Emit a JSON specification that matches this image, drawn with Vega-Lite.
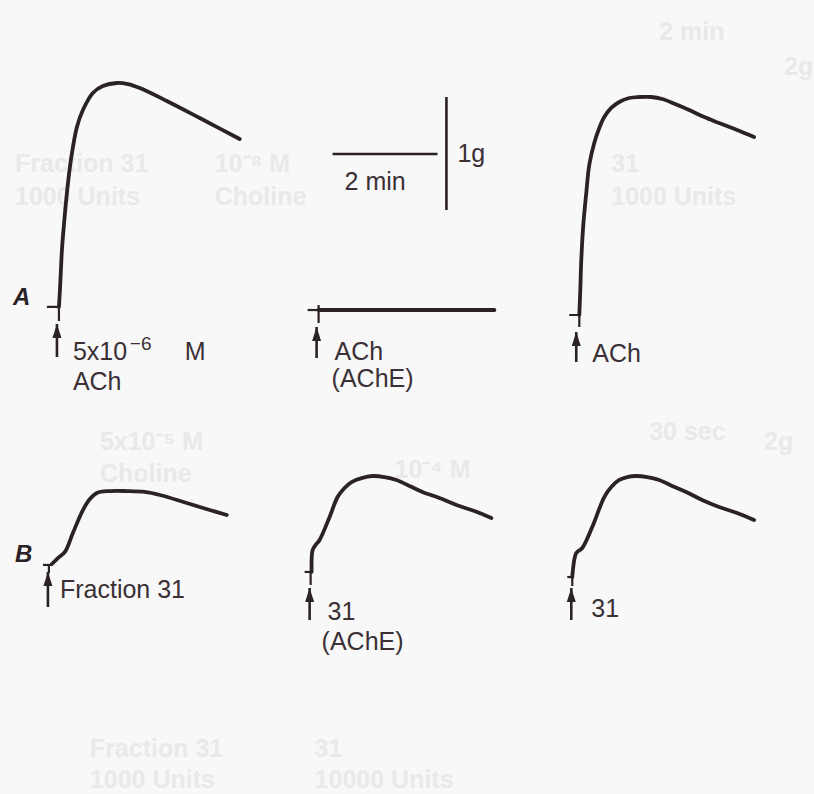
{
  "$schema": "https://vega.github.io/schema/vega-lite/v6.json",
  "width": 814,
  "height": 794,
  "autosize": {"type": "fit", "contains": "padding"},
  "padding": 0,
  "background": "#f8f8f8",
  "config": {"view": {"stroke": null}},
  "datasets": {
    "traces": [
      {"trace": "A1", "t": 1.124, "g": 4.310},
      {"trace": "A1", "t": 1.143, "g": 4.460},
      {"trace": "A1", "t": 1.162, "g": 4.637},
      {"trace": "A1", "t": 1.181, "g": 4.814},
      {"trace": "A1", "t": 1.219, "g": 5.035},
      {"trace": "A1", "t": 1.276, "g": 5.319},
      {"trace": "A1", "t": 1.352, "g": 5.611},
      {"trace": "A1", "t": 1.467, "g": 5.903},
      {"trace": "A1", "t": 1.581, "g": 6.053},
      {"trace": "A1", "t": 1.771, "g": 6.204},
      {"trace": "A1", "t": 1.962, "g": 6.265},
      {"trace": "A1", "t": 2.229, "g": 6.292},
      {"trace": "A1", "t": 2.438, "g": 6.283},
      {"trace": "A1", "t": 2.667, "g": 6.248},
      {"trace": "A1", "t": 3.181, "g": 6.133},
      {"trace": "A1", "t": 3.810, "g": 5.982},
      {"trace": "A1", "t": 4.571, "g": 5.796},
      {"trace": "A2", "t": 6.076, "g": 4.283},
      {"trace": "A2", "t": 9.429, "g": 4.283},
      {"trace": "A3", "t": 11.048, "g": 4.239},
      {"trace": "A3", "t": 11.067, "g": 4.460},
      {"trace": "A3", "t": 11.086, "g": 4.726},
      {"trace": "A3", "t": 11.124, "g": 5.035},
      {"trace": "A3", "t": 11.181, "g": 5.319},
      {"trace": "A3", "t": 11.238, "g": 5.566},
      {"trace": "A3", "t": 11.333, "g": 5.761},
      {"trace": "A3", "t": 11.429, "g": 5.894},
      {"trace": "A3", "t": 11.524, "g": 5.991},
      {"trace": "A3", "t": 11.657, "g": 6.071},
      {"trace": "A3", "t": 11.810, "g": 6.124},
      {"trace": "A3", "t": 12.000, "g": 6.159},
      {"trace": "A3", "t": 12.190, "g": 6.168},
      {"trace": "A3", "t": 12.419, "g": 6.168},
      {"trace": "A3", "t": 12.629, "g": 6.150},
      {"trace": "A3", "t": 12.876, "g": 6.106},
      {"trace": "A3", "t": 13.143, "g": 6.053},
      {"trace": "A3", "t": 13.429, "g": 5.991},
      {"trace": "A3", "t": 13.714, "g": 5.938},
      {"trace": "A3", "t": 14.057, "g": 5.876},
      {"trace": "A3", "t": 14.381, "g": 5.814},
      {"trace": "B1", "t": 0.990, "g": 2.035},
      {"trace": "B1", "t": 1.105, "g": 2.088},
      {"trace": "B1", "t": 1.238, "g": 2.142},
      {"trace": "B1", "t": 1.390, "g": 2.310},
      {"trace": "B1", "t": 1.581, "g": 2.513},
      {"trace": "B1", "t": 1.714, "g": 2.611},
      {"trace": "B1", "t": 1.848, "g": 2.664},
      {"trace": "B1", "t": 2.095, "g": 2.681},
      {"trace": "B1", "t": 2.419, "g": 2.681},
      {"trace": "B1", "t": 2.762, "g": 2.673},
      {"trace": "B1", "t": 3.048, "g": 2.646},
      {"trace": "B1", "t": 3.562, "g": 2.575},
      {"trace": "B1", "t": 4.000, "g": 2.513},
      {"trace": "B1", "t": 4.324, "g": 2.469},
      {"trace": "B2", "t": 5.943, "g": 1.965},
      {"trace": "B2", "t": 5.962, "g": 2.159},
      {"trace": "B2", "t": 6.019, "g": 2.204},
      {"trace": "B2", "t": 6.095, "g": 2.248},
      {"trace": "B2", "t": 6.286, "g": 2.451},
      {"trace": "B2", "t": 6.438, "g": 2.628},
      {"trace": "B2", "t": 6.571, "g": 2.708},
      {"trace": "B2", "t": 6.705, "g": 2.761},
      {"trace": "B2", "t": 6.895, "g": 2.796},
      {"trace": "B2", "t": 7.105, "g": 2.814},
      {"trace": "B2", "t": 7.333, "g": 2.805},
      {"trace": "B2", "t": 7.562, "g": 2.779},
      {"trace": "B2", "t": 7.810, "g": 2.726},
      {"trace": "B2", "t": 8.057, "g": 2.673},
      {"trace": "B2", "t": 8.381, "g": 2.619},
      {"trace": "B2", "t": 8.705, "g": 2.558},
      {"trace": "B2", "t": 9.048, "g": 2.504},
      {"trace": "B2", "t": 9.371, "g": 2.442},
      {"trace": "B3", "t": 10.914, "g": 1.920},
      {"trace": "B3", "t": 10.952, "g": 2.071},
      {"trace": "B3", "t": 10.990, "g": 2.133},
      {"trace": "B3", "t": 11.105, "g": 2.177},
      {"trace": "B3", "t": 11.295, "g": 2.363},
      {"trace": "B3", "t": 11.524, "g": 2.628},
      {"trace": "B3", "t": 11.657, "g": 2.717},
      {"trace": "B3", "t": 11.810, "g": 2.779},
      {"trace": "B3", "t": 11.962, "g": 2.805},
      {"trace": "B3", "t": 12.133, "g": 2.814},
      {"trace": "B3", "t": 12.343, "g": 2.805},
      {"trace": "B3", "t": 12.571, "g": 2.779},
      {"trace": "B3", "t": 12.819, "g": 2.726},
      {"trace": "B3", "t": 13.086, "g": 2.673},
      {"trace": "B3", "t": 13.390, "g": 2.602},
      {"trace": "B3", "t": 13.714, "g": 2.540},
      {"trace": "B3", "t": 14.057, "g": 2.487},
      {"trace": "B3", "t": 14.381, "g": 2.425}
    ],
    "ticks": [
      {"seg": "A1", "t": 0.895, "g": 4.310},
      {"seg": "A1", "t": 1.124, "g": 4.310},
      {"seg": "A1", "t": 1.124, "g": 4.186},
      {"seg": "A2h", "t": 5.867, "g": 4.283},
      {"seg": "A2h", "t": 6.076, "g": 4.283},
      {"seg": "A2v", "t": 6.076, "g": 4.327},
      {"seg": "A2v", "t": 6.076, "g": 4.168},
      {"seg": "A3", "t": 10.857, "g": 4.239},
      {"seg": "A3", "t": 11.048, "g": 4.239},
      {"seg": "A3", "t": 11.048, "g": 4.133},
      {"seg": "B1h", "t": 0.819, "g": 2.027},
      {"seg": "B1h", "t": 0.990, "g": 2.027},
      {"seg": "B1v", "t": 0.933, "g": 2.027},
      {"seg": "B1v", "t": 0.933, "g": 1.956},
      {"seg": "B2h", "t": 5.810, "g": 1.965},
      {"seg": "B2h", "t": 5.943, "g": 1.965},
      {"seg": "B2v", "t": 5.924, "g": 1.965},
      {"seg": "B2v", "t": 5.924, "g": 1.850},
      {"seg": "B3h", "t": 10.819, "g": 1.920},
      {"seg": "B3h", "t": 10.933, "g": 1.920},
      {"seg": "B3v", "t": 10.914, "g": 1.920},
      {"seg": "B3v", "t": 10.914, "g": 1.841}
    ],
    "scalebar": [
      {"bar": "time", "t": 6.343, "g": 5.664},
      {"bar": "time", "t": 8.343, "g": 5.664},
      {"bar": "force", "t": 8.514, "g": 5.168},
      {"bar": "force", "t": 8.514, "g": 6.168}
    ],
    "arrows": [
      {"dose": "A1", "t": 1.086, "tip": 4.159, "tail": 3.867},
      {"dose": "A2", "t": 6.038, "tip": 4.133, "tail": 3.858},
      {"dose": "A3", "t": 10.990, "tip": 4.088, "tail": 3.823},
      {"dose": "B1", "t": 0.914, "tip": 1.965, "tail": 1.655},
      {"dose": "B2", "t": 5.905, "tip": 1.823, "tail": 1.540},
      {"dose": "B3", "t": 10.895, "tip": 1.823, "tail": 1.540}
    ],
    "labels": [
      {"text": "5x10", "t": 1.390, "g": 3.841},
      {"text": "M", "t": 3.524, "g": 3.841},
      {"text": "ACh", "t": 1.390, "g": 3.575},
      {"text": "ACh", "t": 6.381, "g": 3.841},
      {"text": "(AChE)", "t": 6.324, "g": 3.600},
      {"text": "ACh", "t": 11.295, "g": 3.823},
      {"text": "Fraction 31", "t": 1.143, "g": 1.735},
      {"text": "31", "t": 6.248, "g": 1.540},
      {"text": "(AChE)", "t": 6.133, "g": 1.274},
      {"text": "31", "t": 11.276, "g": 1.566},
      {"text": "2 min", "t": 6.571, "g": 5.345},
      {"text": "1g", "t": 8.724, "g": 5.593}
    ],
    "supers": [
      {"text": "−6", "t": 2.476, "g": 3.930}
    ],
    "panels": [
      {"text": "A", "t": 0.248, "g": 4.327},
      {"text": "B", "t": 0.286, "g": 2.053}
    ],
    "ghost": [
      {"text": "Fraction 31", "t": 0.286, "g": 5.504},
      {"text": "1000 Units", "t": 0.286, "g": 5.212},
      {"text": "10⁻⁸ M", "t": 4.095, "g": 5.504},
      {"text": "Choline", "t": 4.095, "g": 5.212},
      {"text": "31", "t": 11.657, "g": 5.504},
      {"text": "1000 Units", "t": 11.657, "g": 5.212},
      {"text": "2 min", "t": 12.571, "g": 6.673},
      {"text": "2g", "t": 14.952, "g": 6.363},
      {"text": "5x10⁻⁵ M", "t": 1.905, "g": 3.044},
      {"text": "Choline", "t": 1.905, "g": 2.761},
      {"text": "10⁻⁴ M", "t": 7.524, "g": 2.796},
      {"text": "30 sec", "t": 12.381, "g": 3.133},
      {"text": "2g", "t": 14.571, "g": 3.044},
      {"text": "Fraction 31", "t": 1.714, "g": 0.327},
      {"text": "1000 Units", "t": 1.714, "g": 0.053},
      {"text": "31", "t": 6.0, "g": 0.327},
      {"text": "10000 Units", "t": 6.0, "g": 0.053}
    ]
  },
  "encoding": {
    "x": {"field": "t", "type": "quantitative", "axis": null,
          "scale": {"domain": [0, 15.505], "nice": false, "zero": false}},
    "y": {"field": "g", "type": "quantitative", "axis": null,
          "scale": {"domain": [0, 7.0265], "nice": false, "zero": false}}
  },
  "layer": [
    {
      "data": {"name": "ghost"},
      "mark": {"type": "text", "align": "left", "baseline": "alphabetic",
               "font": "Liberation Sans", "fontSize": 25, "fontWeight": "bold", "color": "#e9e9e9"},
      "encoding": {"text": {"field": "text"}}
    },
    {
      "data": {"name": "traces"},
      "mark": {"type": "line", "strokeWidth": 3.8, "color": "#2a2226",
               "interpolate": "catmull-rom", "strokeCap": "round", "strokeJoin": "round"},
      "encoding": {"detail": {"field": "trace"}, "order": {"value": null}}
    },
    {
      "data": {"name": "ticks"},
      "mark": {"type": "line", "strokeWidth": 2.2, "color": "#2a2226"},
      "encoding": {"detail": {"field": "seg"}, "order": {"value": null}}
    },
    {
      "data": {"name": "scalebar"},
      "mark": {"type": "line", "strokeWidth": 2.6, "color": "#2a2226"},
      "encoding": {"detail": {"field": "bar"}, "order": {"value": null}}
    },
    {
      "data": {"name": "arrows"},
      "mark": {"type": "rule", "strokeWidth": 2.6, "color": "#2a2226"},
      "encoding": {"y": {"field": "tip", "type": "quantitative"}, "y2": {"field": "tail"}}
    },
    {
      "data": {"name": "arrows"},
      "mark": {"type": "point", "shape": "M0,0L0.45,1.4L-0.45,1.4Z", "size": 400,
               "filled": true, "opacity": 1, "color": "#2a2226"},
      "encoding": {"y": {"field": "tip", "type": "quantitative"}}
    },
    {
      "data": {"name": "labels"},
      "mark": {"type": "text", "align": "left", "baseline": "alphabetic",
               "font": "Liberation Sans", "fontSize": 25, "color": "#3a3035"},
      "encoding": {"text": {"field": "text"}}
    },
    {
      "data": {"name": "supers"},
      "mark": {"type": "text", "align": "left", "baseline": "alphabetic",
               "font": "Liberation Sans", "fontSize": 19, "color": "#3a3035"},
      "encoding": {"text": {"field": "text"}}
    },
    {
      "data": {"name": "panels"},
      "mark": {"type": "text", "align": "left", "baseline": "alphabetic",
               "font": "Liberation Sans", "fontSize": 24, "fontWeight": "bold",
               "fontStyle": "italic", "color": "#2a2226"},
      "encoding": {"text": {"field": "text"}}
    }
  ]
}
